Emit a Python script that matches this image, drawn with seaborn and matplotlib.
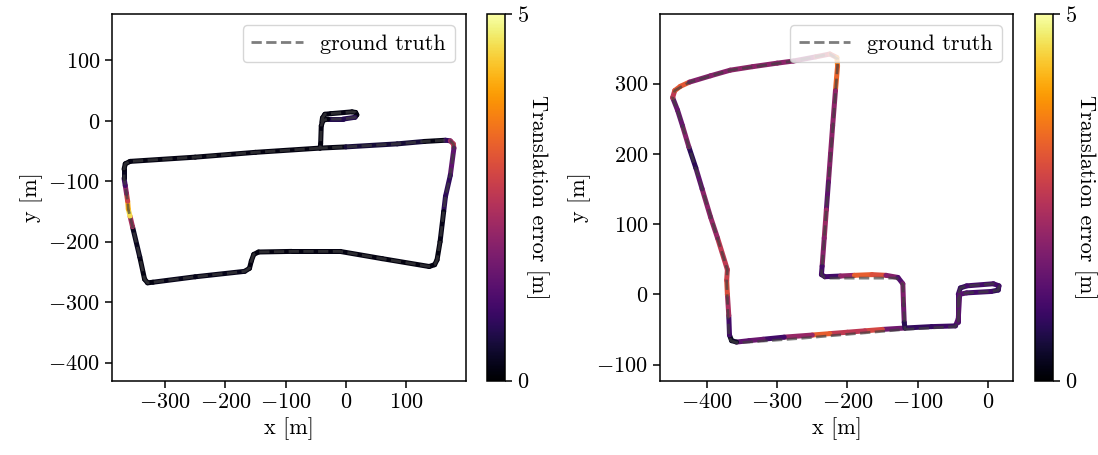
import numpy as np
import pandas as pd
import matplotlib
matplotlib.use("Agg")
import matplotlib.pyplot as plt
import seaborn as sns
from matplotlib.collections import LineCollection
from matplotlib.colors import Normalize
from matplotlib.cm import ScalarMappable
from matplotlib.ticker import MultipleLocator

# ---------------- sequence 1 (trajectory, error per pose) ----------------
seq1_x = [-40, -39, -35, -25, 10, 16, 18, 15, -5, -30, -38, -41, -42, -43,
          0, 85, 130, 165, 173, 178, 179,
          173, 165, 162, 156, 151, 147, 138,
          60, -10, -90, -145, -153, -157, -160, -168, -250, -320, -329, -334,
          -342, -354, -358, -361, -362, -364, -366, -368, -368, -366, -358,
          -250, -150, -43]
seq1_y = [-2, 5, 11, 12, 15, 14, 10, 6, 3, 3, 1, -8, -38, -45,
          -43, -38, -34, -32, -33, -38, -45,
          -90, -125, -150, -200, -230, -238, -241,
          -228, -216, -216, -217, -221, -232, -244, -249, -258, -267, -268, -262,
          -225, -175, -158, -146, -133, -120, -107, -95, -80, -71, -67,
          -60, -52, -45]
seq1_err = [0.15, 0.15, 0.15, 0.2, 0.15, 0.15, 0.15, 0.2, 1.2, 0.15, 0.15, 0.15, 0.15, 0.15,
            0.2, 0.8, 0.15, 0.2, 1.5, 2.8, 2.3,
            0.4, 1.2, 0.3, 0.15, 0.15, 0.15, 0.15,
            0.15, 0.2, 0.15, 0.15, 0.15, 0.15, 0.15, 0.15, 0.3, 0.15, 0.15, 0.2,
            0.15, 0.4, 4.2, 4.9, 3.3, 2.2, 1.6, 0.4, 0.15, 0.15, 0.15,
            0.2, 0.15, 0.15]

# ---------------- sequence 2 (trajectory, error per pose) ----------------
seq2_x = [-42, -42, -39, -30, 8, 16, 15, 5, -30, -40, -42, -46,
          -80, -118, -150, -175, -200, -225, -250, -290, -320, -340, -358, -365, -368,
          -369, -371, -372, -371,
          -385, -395, -407, -416, -426, -435, -442, -449, -446, -438, -425,
          -395, -367, -335, -300, -277, -245, -225, -215, -214,
          -217, -221, -224, -227, -230, -233, -236, -237, -232,
          -210, -190, -165, -145, -128, -121, -120, -119, -118]
seq2_y = [-40, 0, 9, 12, 15, 12, 6, 4, 2, 0, -35, -45,
          -46, -48, -50, -52, -54, -56, -58, -61, -64, -66, -68, -66, -58,
          -30, 0, 20, 35,
          80, 110, 150, 180, 210, 240, 262, 280, 290, 296, 302,
          311, 319, 324, 329, 332, 338, 342, 337, 325,
          290, 240, 200, 160, 120, 80, 40, 28, 25,
          26, 27, 28, 27, 24, 15, -15, -40, -48]
seq2_err = [1.0, 1.2, 0.8, 0.9, 1.2, 0.9, 1.0, 0.6, 1.4, 1.1, 1.5, 1.0,
            0.9, 0.8, 2.3, 3.4, 1.6, 3.5, 2.9, 1.2, 0.8, 2.2, 0.5, 0.3, 0.3,
            1.7, 2.9, 3.0, 2.4,
            2.7, 1.4, 2.4, 0.3, 1.2, 2.5, 0.4, 2.5, 2.6, 3.6, 2.6,
            1.0, 2.7, 1.2, 2.6, 1.2, 2.7, 2.2, 3.5, 3.8,
            2.7, 1.2, 2.6, 1.1, 1.6, 2.6, 1.1, 1.0, 1.0,
            1.0, 3.0, 3.4, 2.5, 1.1, 1.3, 2.2, 0.9, 0.5]

# ground truth of sequence 2
gt2_x = [-42, -42, -39, -30, 8, 16, 15, 5, -30, -40, -42, -46,
         -118, -200, -270, -340, -358, -366, -369, -372, -371,
         -442, -449, -446, -425, -367, -277, -225, -214, -214,
         -237, -232, -130, -121, -118]
gt2_y = [-40, 0, 9, 12, 15, 12, 6, 4, 2, 0, -35, -46,
         -50, -57, -63, -68, -69, -66, -58, 20, 35,
         262, 280, 290, 302, 319, 332, 342, 335, 325,
         28, 23, 23, 14, -50]

ERR_MIN, ERR_MAX = 0, 5

sns.set_theme(style="ticks")
plt.rcParams.update({
    "font.family": ["serif"],
    "font.serif": ["cmr10"],
    "mathtext.fontset": "cm",
    "axes.formatter.use_mathtext": True,
    "axes.unicode_minus": True,
    "font.size": 16,
    "axes.labelsize": 16,
    "xtick.labelsize": 16,
    "ytick.labelsize": 16,
    "legend.fontsize": 16,
    "axes.edgecolor": "black",
    "axes.linewidth": 1.1,
    "xtick.color": "black",
    "ytick.color": "black",
    "text.color": "black",
    "axes.labelcolor": "black",
    "xtick.major.size": 5,
    "ytick.major.size": 5,
    "xtick.major.width": 1.1,
    "ytick.major.width": 1.1,
})

norm = Normalize(ERR_MIN, ERR_MAX)
cmap = plt.get_cmap("inferno")

fig = plt.figure(figsize=(10.98, 4.55), dpi=100)
bottom, height = 0.1633, 0.806
ax1 = fig.add_axes([0.102, bottom, 0.3224, height])
cax1 = fig.add_axes([0.4435, bottom, 0.0164, height])
ax2 = fig.add_axes([0.6011, bottom, 0.3215, height])
cax2 = fig.add_axes([0.9426, bottom, 0.0164, height])


def draw(ax, cax, ex, ey, err, gx, gy, xlim, ylim):
    pts = np.column_stack([ex, ey]).astype(float)
    segs = np.stack([pts[:-1], pts[1:]], axis=1)
    e = np.asarray(err, dtype=float)
    seg_err = 0.5 * (e[:-1] + e[1:])
    lc = LineCollection(segs, colors=cmap(norm(seg_err)), linewidths=3.6,
                        capstyle="round", joinstyle="round", zorder=2)
    ax.add_collection(lc)
    gt = pd.DataFrame({"x": gx, "y": gy})
    sns.lineplot(data=gt, x="x", y="y", sort=False, estimator=None, ax=ax,
                 color="#404040", alpha=0.68, linewidth=2.0, linestyle="--",
                 label="ground truth", zorder=3)
    ax.set_xlim(*xlim)
    ax.set_ylim(*ylim)
    ax.xaxis.set_major_locator(MultipleLocator(100))
    ax.yaxis.set_major_locator(MultipleLocator(100))
    ax.set_xlabel("x [m]")
    ax.set_ylabel("y [m]")
    ax.legend(loc="upper right", handlelength=2.3, framealpha=0.8)
    for s in ax.spines.values():
        s.set_visible(True)
    cb = fig.colorbar(ScalarMappable(norm=norm, cmap=cmap), cax=cax, ticks=[0, 5])
    cb.outline.set_linewidth(1.1)
    cb.set_label("Translation error [m]", rotation=270, va="bottom", labelpad=-2)


draw(ax1, cax1, seq1_x, seq1_y, seq1_err, seq1_x, seq1_y, (-388, 199), (-430, 177))
draw(ax2, cax2, seq2_x, seq2_y, seq2_err, gt2_x, gt2_y, (-467, 36), (-123, 399))

fig.savefig("out.png", dpi=100)
